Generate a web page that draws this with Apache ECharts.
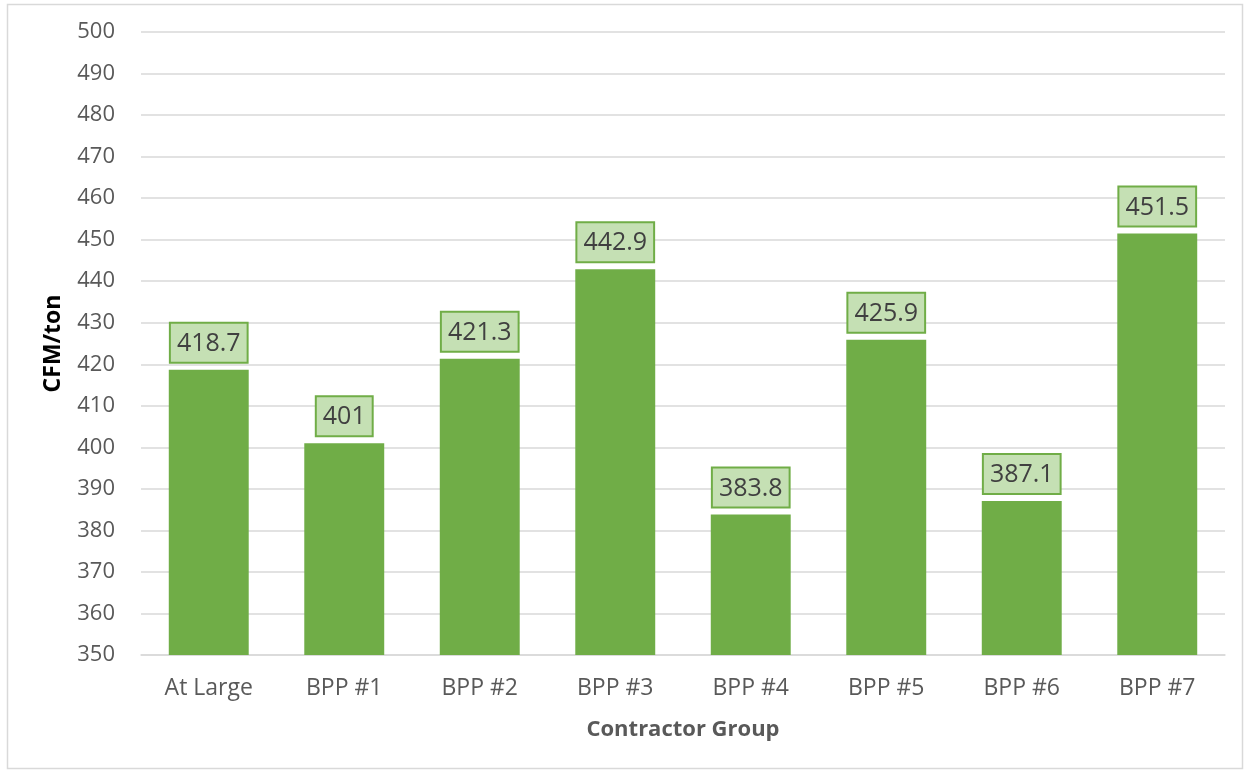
<!DOCTYPE html>
<html>
<head>
<meta charset="utf-8">
<script src="https://cdn.jsdelivr.net/npm/echarts@6/dist/echarts.min.js"></script>
<style>
  html, body { margin: 0; padding: 0; background: #fff; }
  #chart { width: 1249px; height: 771px; }
</style>
</head>
<body>
<div id="chart"></div>
<script>
// CFM per ton by contractor group
const categories = ['At Large', 'BPP #1', 'BPP #2', 'BPP #3', 'BPP #4', 'BPP #5', 'BPP #6', 'BPP #7'];
const cfmPerTon = [418.7, 401, 421.3, 442.9, 383.8, 425.9, 387.1, 451.5];
const yTicks = { min: 350, max: 500, interval: 10 };

const FONT = '"Open Sans", "Noto Sans", sans-serif';

const chart = echarts.init(document.getElementById('chart'), null, { renderer: 'canvas' });
chart.setOption({
  animation: false,
  backgroundColor: '#ffffff',
  graphic: [{
    type: 'rect',
    shape: { x: 7.5, y: 4.5, width: 1235, height: 764 },
    style: { fill: 'none', stroke: '#d9d9d9', lineWidth: 1.5 },
    silent: true
  }],
  grid: { left: 141, right: 24, top: 32, bottom: 116, containLabel: false },
  xAxis: {
    type: 'category',
    data: categories,
    name: 'Contractor Group',
    nameLocation: 'middle',
    nameGap: 64,
    nameTextStyle: { fontFamily: FONT, fontSize: 22, fontWeight: 'bold', color: '#595959' },
    axisLine: { show: true, lineStyle: { color: '#d9d9d9', width: 1.5 } },
    axisTick: { show: false },
    axisLabel: { fontFamily: FONT, fontSize: 23, color: '#595959', margin: 22 }
  },
  yAxis: {
    type: 'value',
    min: yTicks.min,
    max: yTicks.max,
    interval: yTicks.interval,
    name: 'CFM/ton',
    nameLocation: 'middle',
    nameGap: 76,
    nameRotate: 90,
    nameTextStyle: { fontFamily: FONT, fontSize: 23, fontWeight: 'bold', color: '#000000' },
    axisLine: { show: false },
    axisTick: { show: false },
    axisLabel: { fontFamily: FONT, fontSize: 22, color: '#595959', margin: 26 },
    splitLine: { lineStyle: { color: '#d9d9d9', width: 1.5 } }
  },
  series: [{
    type: 'bar',
    data: cfmPerTon,
    barWidth: '59%',
    itemStyle: { color: '#70ad47' },
    label: {
      show: true,
      position: 'top',
      distance: 8,
      fontFamily: FONT,
      fontSize: 25,
      lineHeight: 28,
      color: '#404040',
      backgroundColor: '#c5e0b4',
      borderColor: '#70ad47',
      borderWidth: 2,
      padding: [6, 6, 4, 6]
    }
  }]
});
</script>
</body>
</html>
